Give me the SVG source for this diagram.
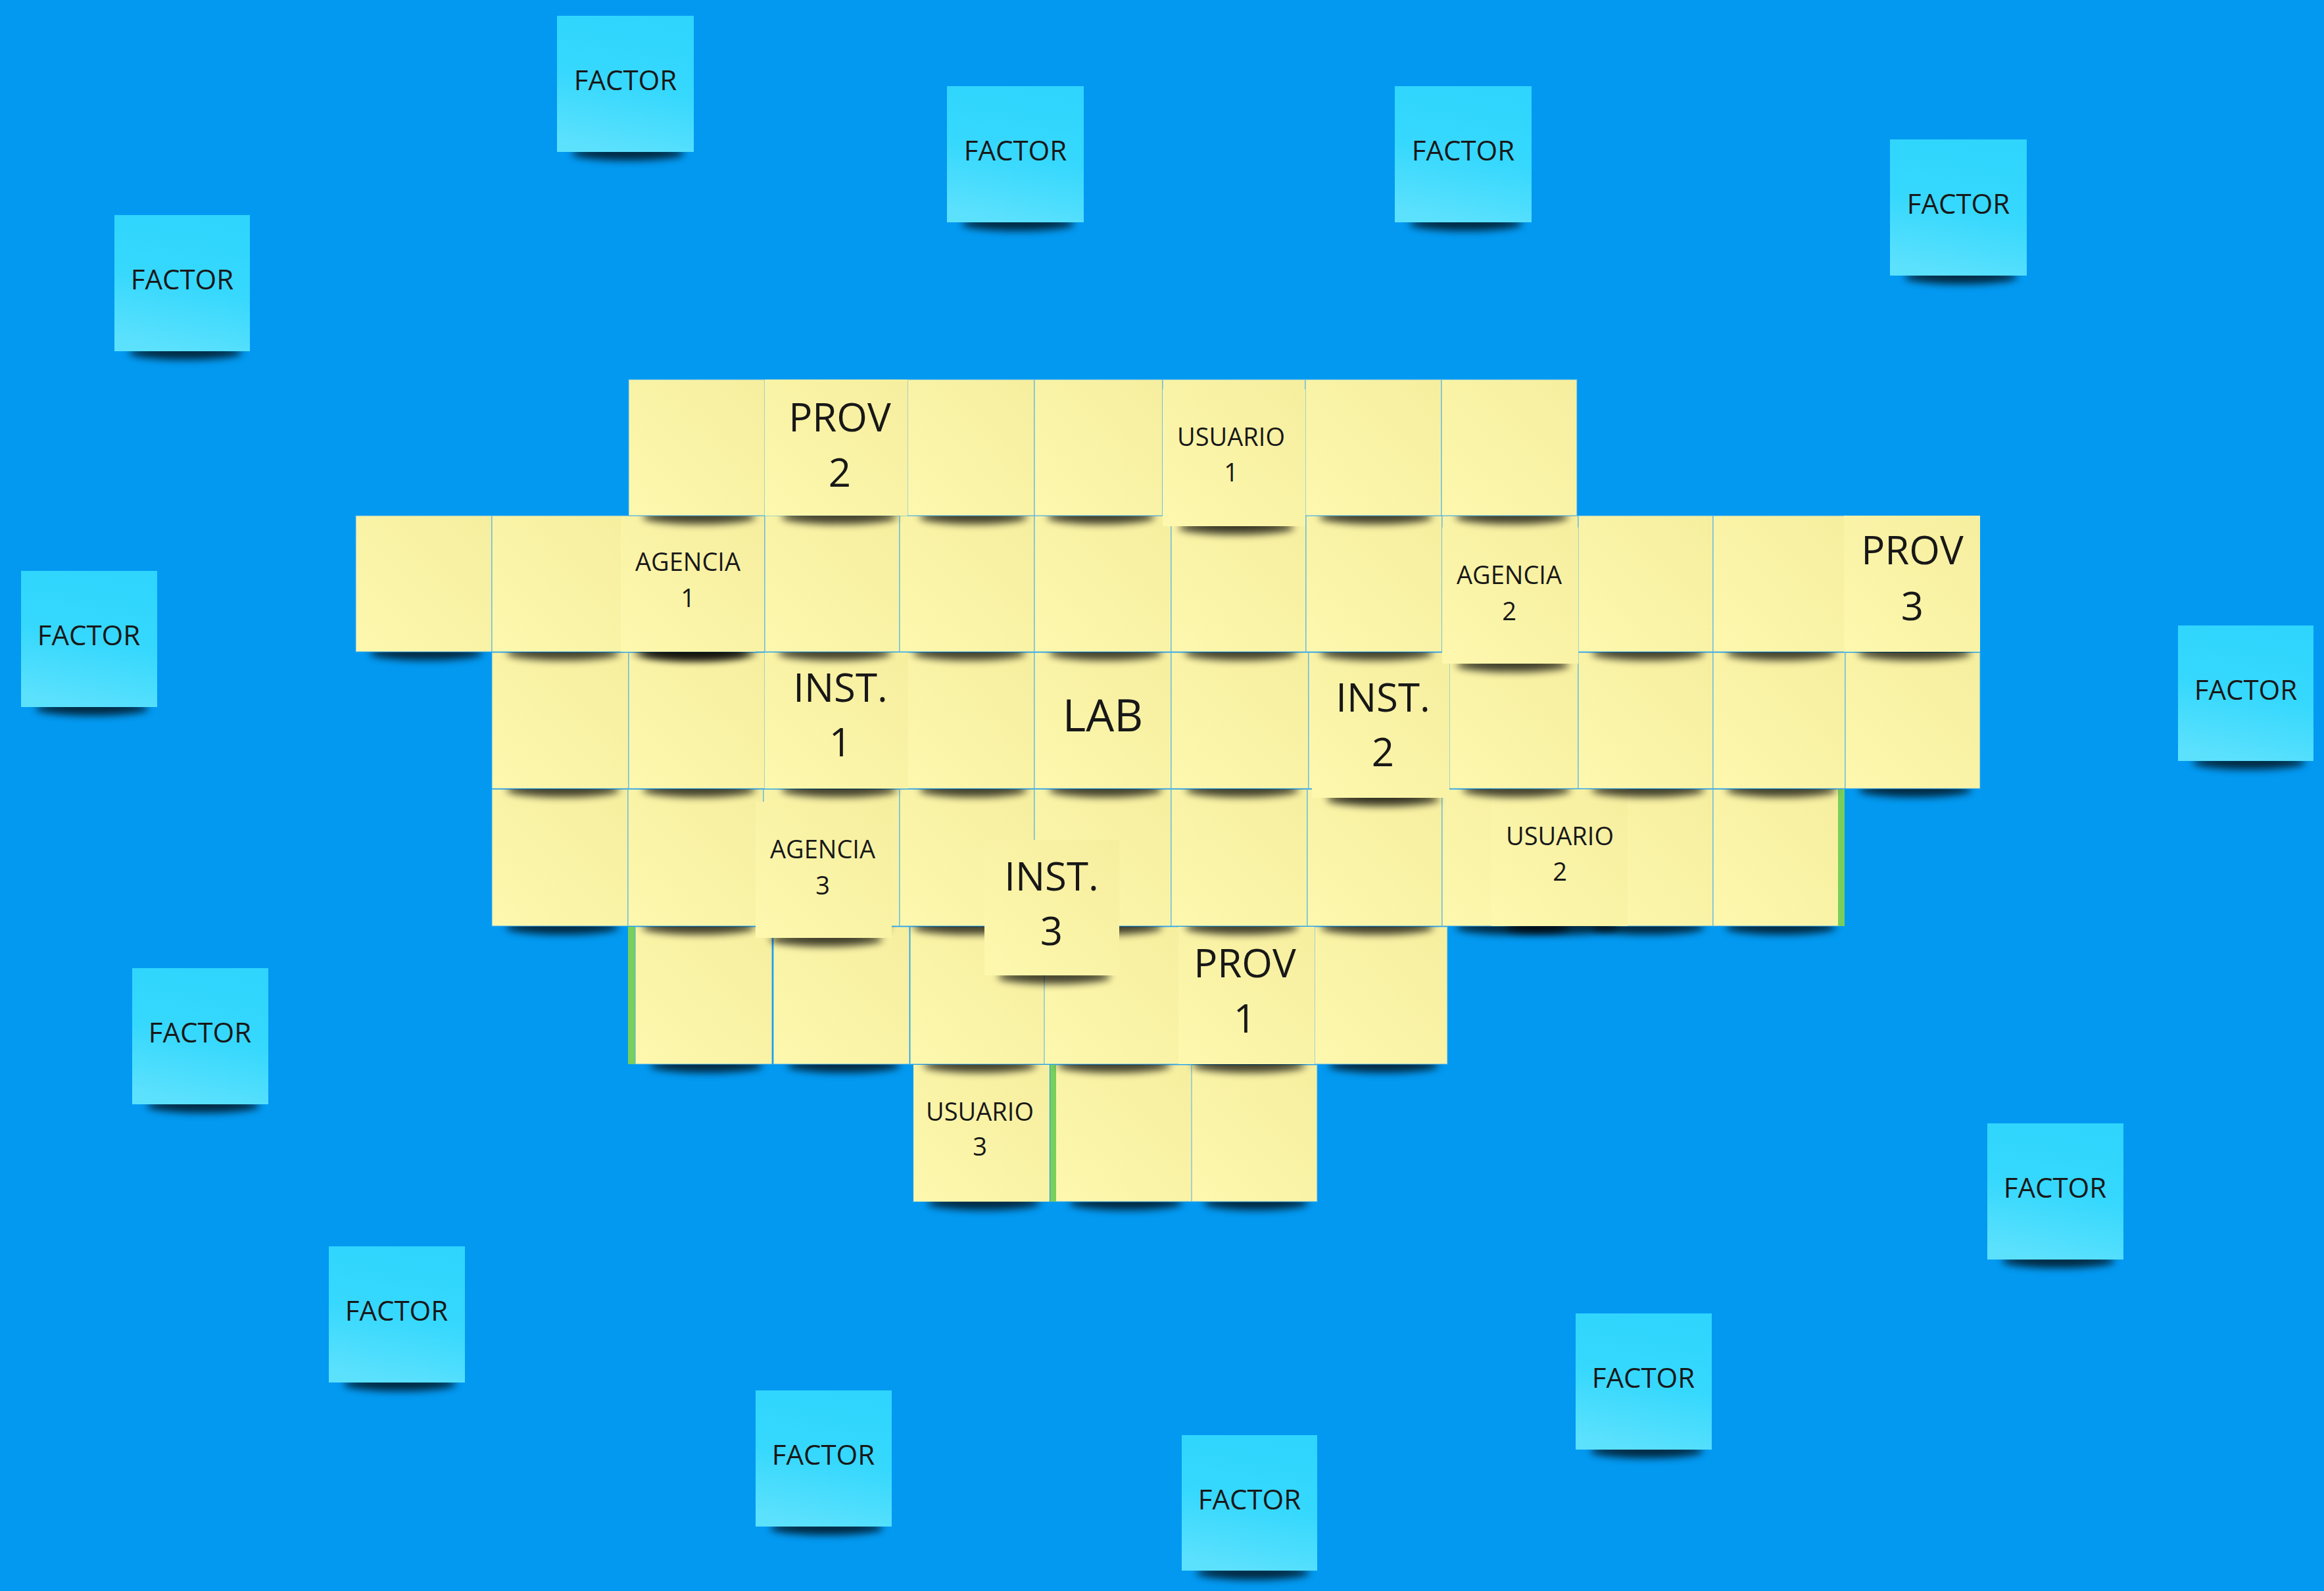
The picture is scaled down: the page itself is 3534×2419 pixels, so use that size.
<svg xmlns="http://www.w3.org/2000/svg" width="3534" height="2419" viewBox="0 0 3534 2419">
<style>
.bg{fill:#0399f1}
.y{fill:url(#gy);stroke:#3aa8ec;stroke-opacity:.6;stroke-width:1.5}
.yl{fill:url(#gy)}
.c{fill:url(#gc)}
.sh{fill:#000;opacity:.72}
.g{fill:#79cf5c}
.t{font-family:"Open Sans","Noto Sans","Liberation Sans",sans-serif;fill:#181818;text-anchor:middle}
.f{font-size:42px}
.s{font-size:38px}
.b{font-size:60px}
.l{font-size:68px}
</style>
<defs>
<linearGradient id="gy" x1="1" y1="0" x2="0" y2="1">
<stop offset="0" stop-color="#f6ee9f"/>
<stop offset="1" stop-color="#fdf8ae"/>
</linearGradient>
<linearGradient id="gc" x1="0.6" y1="0" x2="0.4" y2="1">
<stop offset="0" stop-color="#2fd5fd"/>
<stop offset="0.5" stop-color="#36d8fd"/>
<stop offset="1" stop-color="#5ce1fd"/>
</linearGradient>
<filter id="bl" x="-30%" y="-200%" width="160%" height="500%">
<feGaussianBlur stdDeviation="6"/>
</filter>
</defs>
<rect class="bg" x="0" y="0" width="3534" height="2419"/>

<g id="factors">
<g id="factor-1"><ellipse class="sh" filter="url(#bl)" cx="955" cy="233" rx="86" ry="11"/><rect class="c" x="847" y="24" width="208" height="207"/><text class="t f" x="951" y="137">FACTOR</text></g>
<g id="factor-2"><ellipse class="sh" filter="url(#bl)" cx="1548" cy="340" rx="86" ry="11"/><rect class="c" x="1440" y="131" width="208" height="207"/><text class="t f" x="1544" y="244">FACTOR</text></g>
<g id="factor-3"><ellipse class="sh" filter="url(#bl)" cx="2229" cy="340" rx="86" ry="11"/><rect class="c" x="2121" y="131" width="208" height="207"/><text class="t f" x="2225" y="244">FACTOR</text></g>
<g id="factor-4"><ellipse class="sh" filter="url(#bl)" cx="2982" cy="421" rx="86" ry="11"/><rect class="c" x="2874" y="212" width="208" height="207"/><text class="t f" x="2978" y="325">FACTOR</text></g>
<g id="factor-5"><ellipse class="sh" filter="url(#bl)" cx="282" cy="536" rx="86" ry="11"/><rect class="c" x="174" y="327" width="206" height="207"/><text class="t f" x="277" y="440">FACTOR</text></g>
<g id="factor-6"><ellipse class="sh" filter="url(#bl)" cx="140" cy="1077" rx="86" ry="11"/><rect class="c" x="32" y="868" width="207" height="207"/><text class="t f" x="135" y="981">FACTOR</text></g>
<g id="factor-7"><ellipse class="sh" filter="url(#bl)" cx="3420" cy="1159" rx="86" ry="11"/><rect class="c" x="3312" y="951" width="206" height="206"/><text class="t f" x="3415" y="1064">FACTOR</text></g>
<g id="factor-8"><ellipse class="sh" filter="url(#bl)" cx="309" cy="1681" rx="86" ry="11"/><rect class="c" x="201" y="1472" width="207" height="207"/><text class="t f" x="304" y="1585">FACTOR</text></g>
<g id="factor-9"><ellipse class="sh" filter="url(#bl)" cx="3130" cy="1917" rx="86" ry="11"/><rect class="c" x="3022" y="1708" width="207" height="207"/><text class="t f" x="3125" y="1821">FACTOR</text></g>
<g id="factor-10"><ellipse class="sh" filter="url(#bl)" cx="608" cy="2104" rx="86" ry="11"/><rect class="c" x="500" y="1895" width="207" height="207"/><text class="t f" x="603" y="2008">FACTOR</text></g>
<g id="factor-11"><ellipse class="sh" filter="url(#bl)" cx="2504" cy="2206" rx="86" ry="11"/><rect class="c" x="2396" y="1997" width="207" height="207"/><text class="t f" x="2499" y="2110">FACTOR</text></g>
<g id="factor-12"><ellipse class="sh" filter="url(#bl)" cx="1257" cy="2323" rx="86" ry="11"/><rect class="c" x="1149" y="2114" width="207" height="207"/><text class="t f" x="1252" y="2227">FACTOR</text></g>
<g id="factor-13"><ellipse class="sh" filter="url(#bl)" cx="1905" cy="2391" rx="86" ry="11"/><rect class="c" x="1797" y="2182" width="206" height="206"/><text class="t f" x="1900" y="2295">FACTOR</text></g>
</g>

<g id="grid">
<!-- row 5 -->
<g id="r5-c2"><ellipse class="sh" filter="url(#bl)" cx="1910" cy="1829" rx="80" ry="11"/><rect class="y" x="1810" y="1619" width="193" height="208"/></g>
<g id="r5-c1"><ellipse class="sh" filter="url(#bl)" cx="1712" cy="1829" rx="86" ry="11"/><rect class="y" x="1605" y="1619" width="207" height="208"/></g>
<g id="r5-green"><rect class="g" x="1597" y="1619" width="9" height="208"/></g>
<g id="usuario-3"><ellipse class="sh" filter="url(#bl)" cx="1496" cy="1829" rx="86" ry="11"/><rect class="yl" x="1389" y="1619" width="207" height="208"/><text class="t s" x="1490" y="1704">USUARIO<tspan x="1490" dy="53">3</tspan></text></g>

<!-- row 4 -->
<g id="r4-green"><rect class="g" x="955" y="1409" width="12" height="209"/></g>
<g id="r4-c0"><ellipse class="sh" filter="url(#bl)" cx="1074" cy="1620" rx="86" ry="11"/><rect class="y" x="966" y="1409" width="208" height="209"/></g>
<g id="r4-c1"><ellipse class="sh" filter="url(#bl)" cx="1283" cy="1620" rx="86" ry="11"/><rect class="y" x="1176" y="1409" width="207" height="209"/></g>
<g id="r4-c2"><ellipse class="sh" filter="url(#bl)" cx="1490" cy="1620" rx="86" ry="11"/><rect class="y" x="1384" y="1409" width="205" height="209"/></g>
<g id="r4-c3"><ellipse class="sh" filter="url(#bl)" cx="1694" cy="1620" rx="86" ry="11"/><rect class="y" x="1588" y="1409" width="205" height="209"/></g>
<g id="r4-c5"><ellipse class="sh" filter="url(#bl)" cx="2104" cy="1620" rx="84" ry="11"/><rect class="y" x="1999" y="1409" width="202" height="209"/></g>
<g id="prov-1"><ellipse class="sh" filter="url(#bl)" cx="1899" cy="1620" rx="86" ry="11"/><rect class="yl" x="1792" y="1409" width="207" height="209"/><text class="t b" x="1893" y="1486">PROV<tspan x="1893" dy="84">1</tspan></text></g>

<!-- row 3 -->
<g id="r3-c0"><ellipse class="sh" filter="url(#bl)" cx="855" cy="1410" rx="86" ry="11"/><rect class="y" x="748" y="1200" width="207" height="208"/></g>
<g id="r3-c1"><ellipse class="sh" filter="url(#bl)" cx="1062" cy="1410" rx="86" ry="11"/><rect class="y" x="955" y="1200" width="206" height="208"/></g>
<g id="r3-c2"><ellipse class="sh" filter="url(#bl)" cx="1268" cy="1410" rx="86" ry="11"/><rect class="y" x="1161" y="1200" width="207" height="208"/></g>
<g id="r3-c3"><ellipse class="sh" filter="url(#bl)" cx="1474" cy="1410" rx="86" ry="11"/><rect class="y" x="1368" y="1200" width="205" height="208"/></g>
<g id="r3-c4"><ellipse class="sh" filter="url(#bl)" cx="1681" cy="1410" rx="86" ry="11"/><rect class="y" x="1573" y="1200" width="208" height="208"/></g>
<g id="r3-c5"><ellipse class="sh" filter="url(#bl)" cx="1888" cy="1410" rx="86" ry="11"/><rect class="y" x="1781" y="1200" width="207" height="208"/></g>
<g id="r3-c6"><ellipse class="sh" filter="url(#bl)" cx="2094" cy="1410" rx="86" ry="11"/><rect class="y" x="1988" y="1200" width="205" height="208"/></g>
<g id="r3-c7"><ellipse class="sh" filter="url(#bl)" cx="2300" cy="1410" rx="86" ry="11"/><rect class="y" x="2193" y="1200" width="207" height="208"/></g>
<g id="r3-c8"><ellipse class="sh" filter="url(#bl)" cx="2506" cy="1410" rx="86" ry="11"/><rect class="y" x="2400" y="1200" width="205" height="208"/></g>
<g id="r3-c9"><ellipse class="sh" filter="url(#bl)" cx="2708" cy="1410" rx="84" ry="11"/><rect class="y" x="2605" y="1200" width="192" height="208"/></g>
<g id="r3-green"><rect class="g" x="2795" y="1200" width="10" height="208"/></g>
<g id="usuario-2"><ellipse class="sh" filter="url(#bl)" cx="2375" cy="1410" rx="86" ry="11"/><rect class="yl" x="2268" y="1200" width="207" height="208"/><text class="t s" x="2372" y="1285">USUARIO<tspan x="2372" dy="54">2</tspan></text></g>
<g id="agencia-3"><ellipse class="sh" filter="url(#bl)" cx="1256" cy="1428" rx="86" ry="11"/><rect class="yl" x="1149" y="1219" width="207" height="207"/><text class="t s" x="1251" y="1305">AGENCIA<tspan x="1251" dy="55">3</tspan></text></g>
<g id="inst-3"><ellipse class="sh" filter="url(#bl)" cx="1603" cy="1485" rx="86" ry="11"/><rect class="yl" x="1497" y="1277" width="205" height="206"/><text class="t b" x="1599" y="1354">INST.<tspan x="1599" dy="83">3</tspan></text></g>

<!-- row 2 -->
<g id="r2-c0"><ellipse class="sh" filter="url(#bl)" cx="856" cy="1201" rx="86" ry="11"/><rect class="y" x="748" y="992" width="208" height="207"/></g>
<g id="r2-c1"><ellipse class="sh" filter="url(#bl)" cx="1063" cy="1201" rx="86" ry="11"/><rect class="y" x="956" y="992" width="207" height="207"/></g>
<g id="r2-c3"><ellipse class="sh" filter="url(#bl)" cx="1480" cy="1201" rx="82" ry="11"/><rect class="y" x="1380" y="992" width="193" height="207"/></g>
<g id="lab"><ellipse class="sh" filter="url(#bl)" cx="1681" cy="1201" rx="86" ry="11"/><rect class="y" x="1573" y="992" width="208" height="207"/><text class="t l" x="1677" y="1112">LAB</text></g>
<g id="r2-c5"><ellipse class="sh" filter="url(#bl)" cx="1889" cy="1201" rx="86" ry="11"/><rect class="y" x="1781" y="992" width="209" height="207"/></g>
<g id="r2-c6"><ellipse class="sh" filter="url(#bl)" cx="2097" cy="1201" rx="86" ry="11"/><rect class="y" x="1990" y="992" width="214" height="207"/></g>
<g id="r2-c7"><ellipse class="sh" filter="url(#bl)" cx="2306" cy="1201" rx="82" ry="11"/><rect class="y" x="2204" y="992" width="196" height="207"/></g>
<g id="r2-c8"><ellipse class="sh" filter="url(#bl)" cx="2506" cy="1201" rx="86" ry="11"/><rect class="y" x="2400" y="992" width="205" height="207"/></g>
<g id="r2-c9"><ellipse class="sh" filter="url(#bl)" cx="2709" cy="1201" rx="84" ry="11"/><rect class="y" x="2605" y="992" width="201" height="207"/></g>
<g id="r2-c10"><ellipse class="sh" filter="url(#bl)" cx="2912" cy="1201" rx="86" ry="11"/><rect class="y" x="2806" y="992" width="205" height="207"/></g>
<g id="inst-1"><ellipse class="sh" filter="url(#bl)" cx="1276" cy="1201" rx="88" ry="11"/><rect class="yl" x="1163" y="992" width="218" height="207"/><text class="t b" x="1278" y="1067">INST.<tspan x="1278" dy="83">1</tspan></text></g>
<g id="inst-2"><ellipse class="sh" filter="url(#bl)" cx="2103" cy="1215" rx="86" ry="11"/><rect class="yl" x="1995" y="1006" width="209" height="207"/><text class="t b" x="2103" y="1082">INST.<tspan x="2103" dy="83">2</tspan></text></g>

<!-- row 1 -->
<g id="r1-c0"><ellipse class="sh" filter="url(#bl)" cx="648" cy="993" rx="86" ry="11"/><rect class="y" x="541" y="784" width="207" height="207"/></g>
<g id="r1-c1"><ellipse class="sh" filter="url(#bl)" cx="856" cy="993" rx="86" ry="11"/><rect class="y" x="748" y="784" width="208" height="207"/></g>
<g id="r1-c2"><ellipse class="sh" filter="url(#bl)" cx="1063" cy="993" rx="86" ry="11"/><rect class="y" x="956" y="784" width="207" height="207"/></g>
<g id="r1-c3"><ellipse class="sh" filter="url(#bl)" cx="1269" cy="993" rx="86" ry="11"/><rect class="y" x="1163" y="784" width="205" height="207"/></g>
<g id="r1-c4"><ellipse class="sh" filter="url(#bl)" cx="1474" cy="993" rx="86" ry="11"/><rect class="y" x="1368" y="784" width="205" height="207"/></g>
<g id="r1-c5"><ellipse class="sh" filter="url(#bl)" cx="1681" cy="993" rx="86" ry="11"/><rect class="y" x="1573" y="784" width="208" height="207"/></g>
<g id="r1-c6"><ellipse class="sh" filter="url(#bl)" cx="1887" cy="993" rx="86" ry="11"/><rect class="y" x="1781" y="784" width="205" height="207"/></g>
<g id="r1-c7"><ellipse class="sh" filter="url(#bl)" cx="2093" cy="993" rx="86" ry="11"/><rect class="y" x="1986" y="784" width="207" height="207"/></g>
<g id="r1-c8"><ellipse class="sh" filter="url(#bl)" cx="2300" cy="993" rx="86" ry="11"/><rect class="y" x="2193" y="784" width="207" height="207"/></g>
<g id="r1-c9"><ellipse class="sh" filter="url(#bl)" cx="2506" cy="993" rx="86" ry="11"/><rect class="y" x="2400" y="784" width="205" height="207"/></g>
<g id="r1-c10"><ellipse class="sh" filter="url(#bl)" cx="2709" cy="993" rx="84" ry="11"/><rect class="y" x="2605" y="784" width="201" height="207"/></g>
<g id="prov-3"><ellipse class="sh" filter="url(#bl)" cx="2911" cy="993" rx="86" ry="11"/><rect class="yl" x="2804" y="784" width="207" height="207"/><text class="t b" x="2908" y="858">PROV<tspan x="2908" dy="85">3</tspan></text></g>
<g id="agencia-1"><ellipse class="sh" filter="url(#bl)" cx="1050" cy="993" rx="86" ry="11"/><rect class="yl" x="944" y="785" width="205" height="206"/><text class="t s" x="1046" y="868">AGENCIA<tspan x="1046" dy="55">1</tspan></text></g>
<g id="agencia-2"><ellipse class="sh" filter="url(#bl)" cx="2300" cy="1011" rx="86" ry="11"/><rect class="yl" x="2193" y="802" width="207" height="207"/><text class="t s" x="2295" y="888">AGENCIA<tspan x="2295" dy="55">2</tspan></text></g>

<!-- row 0 -->
<g id="r0-c2"><ellipse class="sh" filter="url(#bl)" cx="1063" cy="786" rx="86" ry="11"/><rect class="y" x="956" y="577" width="207" height="207"/></g>
<g id="r0-c4"><ellipse class="sh" filter="url(#bl)" cx="1480" cy="786" rx="82" ry="11"/><rect class="y" x="1380" y="577" width="193" height="207"/></g>
<g id="r0-c5"><ellipse class="sh" filter="url(#bl)" cx="1674" cy="786" rx="82" ry="11"/><rect class="y" x="1573" y="577" width="195" height="207"/></g>
<g id="r0-c6"><ellipse class="sh" filter="url(#bl)" cx="1880" cy="786" rx="86" ry="11"/><rect class="y" x="1768" y="577" width="217" height="207"/></g>
<g id="r0-c7"><ellipse class="sh" filter="url(#bl)" cx="2092" cy="786" rx="86" ry="11"/><rect class="y" x="1985" y="577" width="207" height="207"/></g>
<g id="r0-c8"><ellipse class="sh" filter="url(#bl)" cx="2299" cy="786" rx="86" ry="11"/><rect class="y" x="2192" y="577" width="206" height="207"/></g>
<g id="prov-2"><ellipse class="sh" filter="url(#bl)" cx="1276" cy="786" rx="88" ry="11"/><rect class="yl" x="1163" y="577" width="217" height="207"/><text class="t b" x="1277" y="656">PROV<tspan x="1277" dy="84">2</tspan></text></g>
<g id="usuario-1"><ellipse class="sh" filter="url(#bl)" cx="1880" cy="802" rx="88" ry="11"/><rect class="yl" x="1768" y="592" width="217" height="208"/><text class="t s" x="1872" y="678">USUARIO<tspan x="1872" dy="54">1</tspan></text></g>
</g>

<g id="connectors"/>
</svg>
